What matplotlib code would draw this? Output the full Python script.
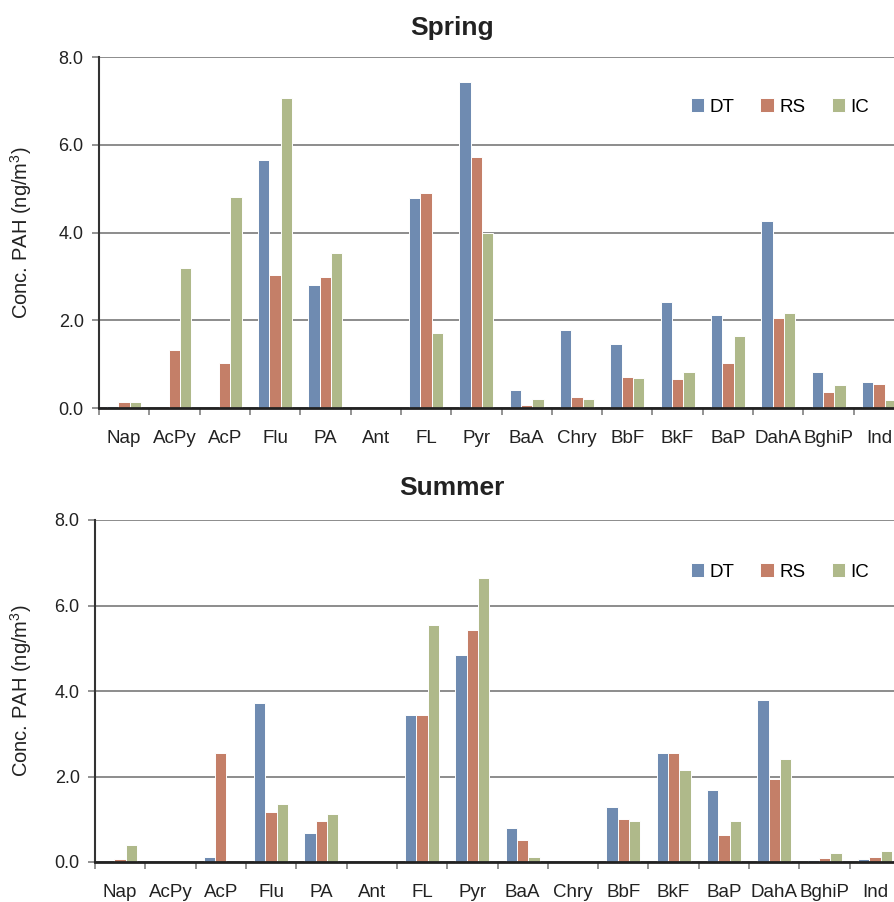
import numpy as np
import matplotlib
matplotlib.use("Agg")
import matplotlib.pyplot as plt

plt.rcParams['font.family'] = ['Liberation Sans', 'DejaVu Sans']
plt.rcParams['mathtext.fontset'] = 'custom'
plt.rcParams['mathtext.rm'] = 'Liberation Sans'
plt.rcParams['mathtext.it'] = 'Liberation Sans:italic'

compounds = ["Nap", "AcPy", "AcP", "Flu", "PA", "Ant", "FL", "Pyr", "BaA",
             "Chry", "BbF", "BkF", "BaP", "DahA", "BghiP", "Ind"]
sites = ["DT", "RS", "IC"]
colors = ["#6F8BB1", "#C47F68", "#AFB98A"]

# spring (ng/m3)
spring_dt = [0.05, 0.0, 0.0, 5.65, 2.80, 0.0, 4.78, 7.43, 0.41, 1.78, 1.47, 2.41, 2.12, 4.26, 0.81, 0.59]
spring_rs = [0.14, 1.32, 1.03, 3.04, 2.98, 0.0, 4.89, 5.73, 0.06, 0.26, 0.70, 0.66, 1.02, 2.04, 0.37, 0.54]
spring_ic = [0.14, 3.20, 4.81, 7.07, 3.53, 0.0, 1.70, 3.99, 0.20, 0.20, 0.68, 0.81, 1.64, 2.17, 0.52, 0.18]

# summer (ng/m3)
summer_dt = [0.0, 0.0, 0.12, 3.72, 0.68, 0.0, 3.43, 4.85, 0.80, 0.0, 1.28, 2.54, 1.69, 3.78, 0.04, 0.08]
summer_rs = [0.08, 0.0, 2.55, 1.18, 0.97, 0.0, 3.44, 5.43, 0.51, 0.0, 1.00, 2.55, 0.63, 1.94, 0.09, 0.12]
summer_ic = [0.39, 0.0, 0.0, 1.36, 1.12, 0.0, 5.54, 6.64, 0.12, 0.0, 0.96, 2.16, 0.95, 2.41, 0.22, 0.25]

W, H = 894, 902
fig = plt.figure(figsize=(W / 100, H / 100), dpi=100)


def panel(rect, series, title, title_y, legend_y):
    ax = fig.add_axes(rect)
    x = np.arange(len(compounds))
    w = 0.225
    for j, (vals, c, lab) in enumerate(zip(series, colors, sites)):
        ax.bar(x + (j - 1) * w, vals, width=w, color=c, edgecolor="white",
               linewidth=0.7, label=lab, zorder=3)
    ax.set_xlim(-0.5, len(compounds) - 0.5)
    ax.set_ylim(0, 8)
    ax.set_yticks([0, 2, 4, 6, 8])
    ax.set_yticklabels(["0.0", "2.0", "4.0", "6.0", "8.0"], fontsize=13, color="#222222")
    ax.set_xticks(x)
    ax.set_xticklabels(compounds, fontsize=13.5, color="#222222")
    ax.set_xticks(np.arange(len(compounds) + 1) - 0.5, minor=True)
    ax.tick_params(axis="x", which="major", length=0, pad=16)
    ax.tick_params(axis="x", which="minor", length=5, width=1.2, color="#808080", direction="out")
    ax.tick_params(axis="y", length=5, width=1.2, color="#808080", direction="out", pad=6)
    ax.yaxis.grid(True, color="#8C8C8C", linewidth=1.4, zorder=0)
    ax.set_axisbelow(True)
    for s in ["top", "right"]:
        ax.spines[s].set_visible(False)
    ax.spines["left"].set_color("#333333")
    ax.spines["left"].set_linewidth(1.5)
    ax.spines["bottom"].set_color("#222222")
    ax.spines["bottom"].set_linewidth(2)
    ax.spines["bottom"].set_zorder(4)
    ax.set_ylabel(r"Conc. PAH (ng/m$^{3}$)", fontsize=14.5, color="#222222", va="center")
    ax.yaxis.set_label_coords((21 - rect[0] * W) / (rect[2] * W), 0.5)
    fig.text(452 / W, 1 - title_y / H, title, fontsize=19, fontweight="bold",
             ha="center", va="center", color="#222222")
    ax.legend(loc="center left", bbox_to_anchor=((683 - rect[0] * W) / (rect[2] * W),
              1 - (legend_y - (1 - rect[1] - rect[3]) * H) / (rect[3] * H)),
              ncol=3, frameon=False, fontsize=13.5, handlelength=0.7, handleheight=0.7,
              handletextpad=0.3, columnspacing=1.4, borderaxespad=0)
    return ax


panel([99 / W, 1 - 408 / H, 805 / W, 351 / H],
      [spring_dt, spring_rs, spring_ic], "Spring", 28, 107)
panel([95 / W, 1 - 862 / H, 805 / W, 342 / H],
      [summer_dt, summer_rs, summer_ic], "Summer", 488, 572)

fig.savefig("out.png", dpi=100)
